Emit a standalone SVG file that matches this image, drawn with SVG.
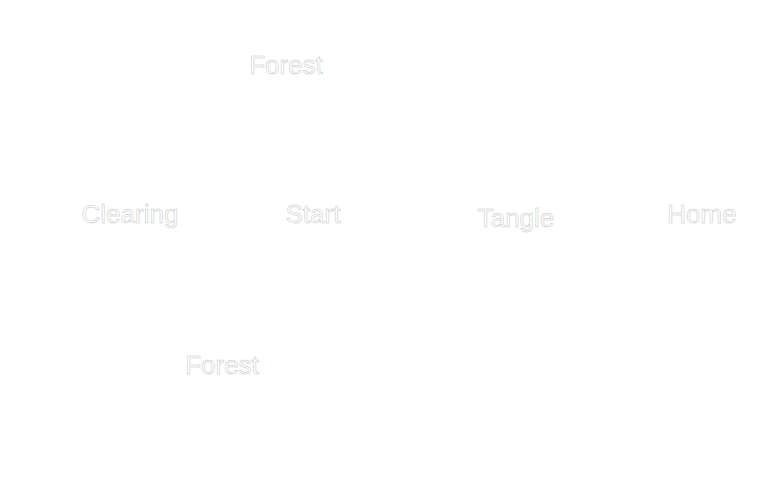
<svg xmlns="http://www.w3.org/2000/svg" width="777" height="483" viewBox="0 0 777 483">
<style>
.lbl{font-family:"Liberation Sans",Arial,sans-serif;font-size:26px;fill:#ffffff;stroke:#c4c4c4;stroke-width:0.5px;text-anchor:middle}
</style>
<rect width="777" height="483" fill="#ffffff"/>
<g id="connectors"></g>
<g id="node-forest-top"><text class="lbl" x="286" y="74">Forest</text></g>
<g id="node-clearing"><text class="lbl" x="130" y="223">Clearing</text></g>
<g id="node-start"><text class="lbl" x="313" y="223">Start</text></g>
<g id="node-tangle"><text class="lbl" x="516" y="227">Tangle</text></g>
<g id="node-home"><text class="lbl" x="702" y="223">Home</text></g>
<g id="node-forest-bottom"><text class="lbl" x="222" y="374">Forest</text></g>
</svg>
